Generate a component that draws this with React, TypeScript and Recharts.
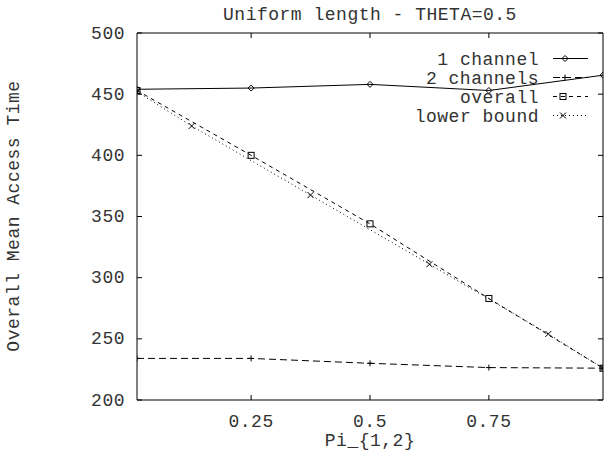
import { LineChart, Line, XAxis, YAxis, Legend } from 'recharts';

const channel1X = [0.01, 0.25, 0.5, 0.75, 0.99];
const channel1 = [454, 455, 458, 453, 465.5];
const channel2 = [234, 234, 230, 226.5, 226];
const overall = [453, 400, 344, 283, 226];
const lowerX = [0.01, 0.125, 0.375, 0.625, 0.875, 0.99];
const lowerBound = [452, 424, 367.5, 311, 254, 226];
const xTicks = [0.25, 0.5, 0.75];
const yTicks = [200, 250, 300, 350, 400, 450, 500];

const FONT = '"Liberation Mono", "Courier New", monospace';
const TXT = { fontFamily: FONT, fontSize: 18, letterSpacing: 0.5, fill: '#333' };

const toPoints = (xs: number[], ys: number[]) => xs.map((x, i) => ({ x, y: ys[i] }));

function Diamond({ cx, cy }: { cx: number; cy: number }) {
  return <path d={`M${cx},${cy - 3}L${cx + 3},${cy}L${cx},${cy + 3}L${cx - 3},${cy}Z`} fill="none" stroke="#000" />;
}
function Plus({ cx, cy }: { cx: number; cy: number }) {
  return <path d={`M${cx - 3},${cy}H${cx + 3}M${cx},${cy - 3}V${cy + 3}`} stroke="#000" />;
}
function Square({ cx, cy }: { cx: number; cy: number }) {
  return <rect x={cx - 3} y={cy - 3} width={6} height={6} fill="none" stroke="#000" />;
}
function Cross({ cx, cy }: { cx: number; cy: number }) {
  return <path d={`M${cx - 3},${cy - 3}L${cx + 3},${cy + 3}M${cx + 3},${cy - 3}L${cx - 3},${cy + 3}`} stroke="#000" />;
}

const dotOf = (Shape: any) => (p: any) => <Shape key={`${p.index}`} cx={p.cx} cy={p.cy} />;

const legendRows = [
  { name: '1 channel', dash: undefined, Shape: Diamond, mx: 181 },
  { name: '2 channels', dash: '7 4', Shape: Plus, mx: 181 },
  { name: 'overall', dash: '4 4', Shape: Square, mx: 179 },
  { name: 'lower bound', dash: '1 3', Shape: Cross, mx: 179 },
];

function KeyBox() {
  return (
    <svg width={220} height={80}>
      {legendRows.map((r, i) => {
        const base = 17 + i * 19;
        return (
          <g key={r.name}>
            <text x={155} y={base} textAnchor="end" {...TXT}>{r.name}</text>
            <line x1={169} x2={204} y1={base - 6.5} y2={base - 6.5} stroke="#000" strokeDasharray={r.dash} />
            <r.Shape cx={r.mx} cy={base - 6.5} />
          </g>
        );
      })}
    </svg>
  );
}

export default function App() {
  return (
    <div style={{ position: 'absolute', left: 0, top: 0, width: 604, height: 456, background: '#fff' }}>
      <LineChart width={604} height={456} margin={{ top: 32, right: 0, bottom: 0, left: 0 }}>
        <XAxis
          dataKey="x"
          type="number"
          domain={[0.01, 0.99]}
          ticks={xTicks}
          allowDataOverflow
          height={56}
          tickSize={0}
          tickMargin={0}
          axisLine={{ stroke: '#000' }}
          tick={(p: any) => (
            <g>
              <line x1={p.x} x2={p.x} y1={p.y} y2={p.y - 5} stroke="#000" />
              <text x={p.x} y={p.y + 27} textAnchor="middle" {...TXT}>{p.payload.value}</text>
            </g>
          )}
          label={{ content: () => <text x={370} y={446} textAnchor="middle" {...TXT}>{'Pi_{1,2}'}</text> }}
        />
        <XAxis
          xAxisId="top"
          orientation="top"
          dataKey="x"
          type="number"
          domain={[0.01, 0.99]}
          ticks={xTicks}
          allowDataOverflow
          height={1}
          tickSize={0}
          tickMargin={0}
          axisLine={{ stroke: '#000' }}
          tick={(p: any) => <line x1={p.x} x2={p.x} y1={p.y} y2={p.y + 5} stroke="#000" />}
          label={{ content: () => <text x={370} y={20} textAnchor="middle" {...TXT}>Uniform length - THETA=0.5</text> }}
        />
        <YAxis
          type="number"
          domain={[200, 500]}
          ticks={yTicks}
          allowDataOverflow
          width={137}
          tickSize={0}
          tickMargin={0}
          axisLine={{ stroke: '#000' }}
          tick={(p: any) => (
            <g>
              <line x1={p.x} x2={p.x + 5} y1={p.y} y2={p.y} stroke="#000" />
              <text x={p.x - 12} y={p.y + 5.5} textAnchor="end" {...TXT}>{p.payload.value}</text>
            </g>
          )}
          label={{
            content: () => (
              <text x={19} y={216} transform="rotate(-90 19 216)" textAnchor="middle" {...TXT}>
                Overall Mean Access Time
              </text>
            ),
          }}
        />
        <YAxis
          yAxisId="right"
          orientation="right"
          type="number"
          domain={[200, 500]}
          ticks={yTicks}
          allowDataOverflow
          width={1}
          tickSize={0}
          tickMargin={0}
          axisLine={{ stroke: '#000' }}
          tick={(p: any) => <line x1={p.x} x2={p.x - 5} y1={p.y} y2={p.y} stroke="#000" />}
        />
        <Legend
          layout="vertical"
          align="center"
          verticalAlign="middle"
          content={() => <KeyBox />}
          wrapperStyle={{ left: 384, top: 48, width: 220, height: 80 }}
        />
        <Line
          data={toPoints(channel1X, channel1)}
          dataKey="y"
          name="1 channel"
          stroke="#000"
          strokeWidth={1}
          dot={dotOf(Diamond)}
          activeDot={false}
          isAnimationActive={false}
        />
        <Line
          data={toPoints(channel1X, channel2)}
          dataKey="y"
          name="2 channels"
          stroke="#000"
          strokeWidth={1}
          strokeDasharray="7 4"
          dot={dotOf(Plus)}
          activeDot={false}
          isAnimationActive={false}
        />
        <Line
          data={toPoints(channel1X, overall)}
          dataKey="y"
          name="overall"
          stroke="#000"
          strokeWidth={1}
          strokeDasharray="4 4"
          dot={dotOf(Square)}
          activeDot={false}
          isAnimationActive={false}
        />
        <Line
          data={toPoints(lowerX, lowerBound)}
          dataKey="y"
          name="lower bound"
          stroke="#000"
          strokeWidth={1}
          strokeDasharray="1 3"
          dot={dotOf(Cross)}
          activeDot={false}
          isAnimationActive={false}
        />
      </LineChart>
    </div>
  );
}
